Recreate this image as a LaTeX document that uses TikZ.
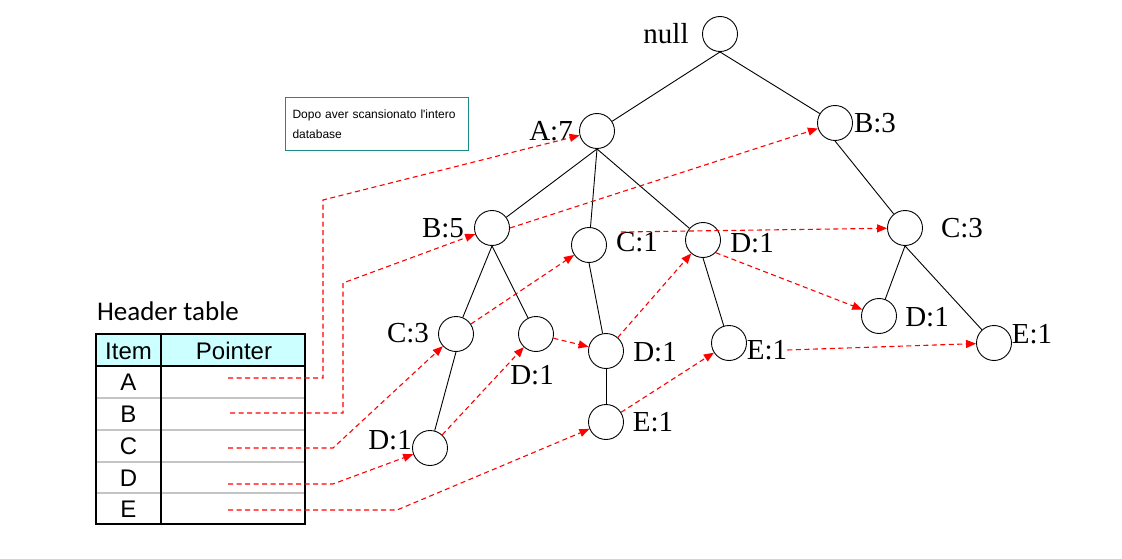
\documentclass[tikz,border=0pt]{standalone}
\usepackage{fontspec}
\setmainfont{Liberation Serif}
\newfontfamily\arialf{Liberation Sans}
\newfontfamily\calibrif{Carlito}
\usetikzlibrary{calc,arrows.meta}
\definecolor{redp}{HTML}{FF0000}
\definecolor{tealx}{HTML}{1A8A86}
\definecolor{headbg}{HTML}{CCFFFF}
\definecolor{rowgray}{HTML}{C4C4C4}
\tikzset{
  fpn/.style={circle,draw,line width=0.9pt,minimum size=35pt,inner sep=0pt},
  lbl/.style={font=\fontsize{29}{29}\selectfont,inner sep=0pt},
  edg/.style={line width=0.9pt},
  ptr/.style={redp,line width=1.1pt,dash pattern=on 5pt off 3.5pt,-{Triangle[length=10pt,width=8pt]}},
  cell/.style={font=\arialf\fontsize{24}{24}\selectfont,inner sep=0pt}
}
\begin{document}
\begin{tikzpicture}[x=1pt,y=-1pt]
\useasboundingbox (0,0) rectangle (1122,559);
% tree
\node[fpn] (root) at (720,34) {};
\node[fpn] (a7) at (597,131) {};
\node[fpn] (b3) at (835,123) {};
\node[fpn] (b5) at (492,228) {};
\node[fpn] (c1) at (589,245) {};
\node[fpn] (d1a) at (703,240) {};
\node[fpn] (c3r) at (905,228) {};
\node[fpn] (c3l) at (456,334) {};
\node[fpn] (d1b) at (536,334) {};
\node[fpn] (d1c) at (606,351) {};
\node[fpn] (e1a) at (729,343) {};
\node[fpn] (d1r) at (879,316) {};
\node[fpn] (e1r) at (994,343) {};
\node[fpn] (d1l) at (430,448) {};
\node[fpn] (e1c) at (606,422) {};
\node[lbl] (rootl) at (666,34) {null};
\node[lbl] (a7l) at (551,131) {A:7};
\node[lbl] (b3l) at (875,123) {B:3};
\node[lbl] (b5l) at (443,228) {B:5};
\node[lbl] (c1l) at (637,242) {C:1};
\node[lbl] (d1al) at (752,243) {D:1};
\node[lbl] (c3rl) at (962,228) {C:3};
\node[lbl] (c3ll) at (408,333) {C:3};
\node[lbl] (d1bl) at (532,375) {D:1};
\node[lbl] (d1cl) at (655,352) {D:1};
\node[lbl] (e1al) at (767,350) {E:1};
\node[lbl] (d1rl) at (927,317) {D:1};
\node[lbl] (e1rl) at (1032,334) {E:1};
\node[lbl] (d1ll) at (390,440) {D:1};
\node[lbl] (e1cl) at (653,422) {E:1};
\foreach \p/\c in {root/a7,root/b3,a7/b5,a7/c1,a7/d1a,b3/c3r,b5/c3l,b5/d1b,c1/d1c,d1a/e1a,c3r/d1r,c3r/e1r,c3l/d1l,d1c/e1c}
  \draw[edg] (\p.south) -- (\c);
% note
\node[draw=tealx,line width=1pt,minimum width=183pt,minimum height=53pt,text width=168pt,align=left,inner sep=0pt,font=\arialf\fontsize{12}{20}\selectfont] (note) at (376.5,124) {Dopo aver scansionato l'intero\\database};
% header table
\node[font=\calibrif\fontsize{27}{27}\selectfont,inner sep=0pt] (htitle) at (168,311) {Header table};
\fill[headbg] (96,334) rectangle (305,366);
\foreach \y in {398,430,462,493}
  \draw[rowgray,line width=1.6pt] (96,\y) -- (305,\y);
\draw[line width=1.2pt] (96,366) -- (305,366);
\draw[line width=1.2pt] (161,334) -- (161,524);
\draw[line width=1.6pt] (96,334) rectangle (305,524);
\node[cell] (hitem) at (128.5,351) {Item};
\node[cell] (hptr) at (234,351) {Pointer};
\foreach \r/\y in {A/382,B/414,C/446,D/478,E/509}{
  \node[cell] (row\r) at (128.5,\y) {\r};
}
\coordinate (pA) at (228,378);
\coordinate (pB) at (230,413);
\coordinate (pC) at (228,448);
\coordinate (pD) at (228,484);
\coordinate (pE) at (228,510);
% node-links
\draw[ptr] (pA) -| (323,200) -- (a7);
\draw[ptr] (pB) -| (343,283) -- (b5);
\draw[ptr] (b5.east) -- (b3);
\draw[ptr] (pC) -- (333,448) -- (c3l);
\draw[ptr] (c3l) -- (c1);
\draw[ptr] ($(c1l.north west)+(5,0)$) -- (c3r);
\draw[ptr] (pD) -- (333,484) -- (d1l);
\draw[ptr] (d1l) -- (d1b);
\draw[ptr] (d1b) -- (d1c);
\draw[ptr] (d1c) -- (d1a);
\draw[ptr] (d1a.south east) -- (d1r);
\draw[ptr] (pE) -- (397,510) -- (e1c);
\draw[ptr] (e1c) -- (e1a);
\draw[ptr] (e1al.east) -- (e1r);
\end{tikzpicture}
\end{document}
